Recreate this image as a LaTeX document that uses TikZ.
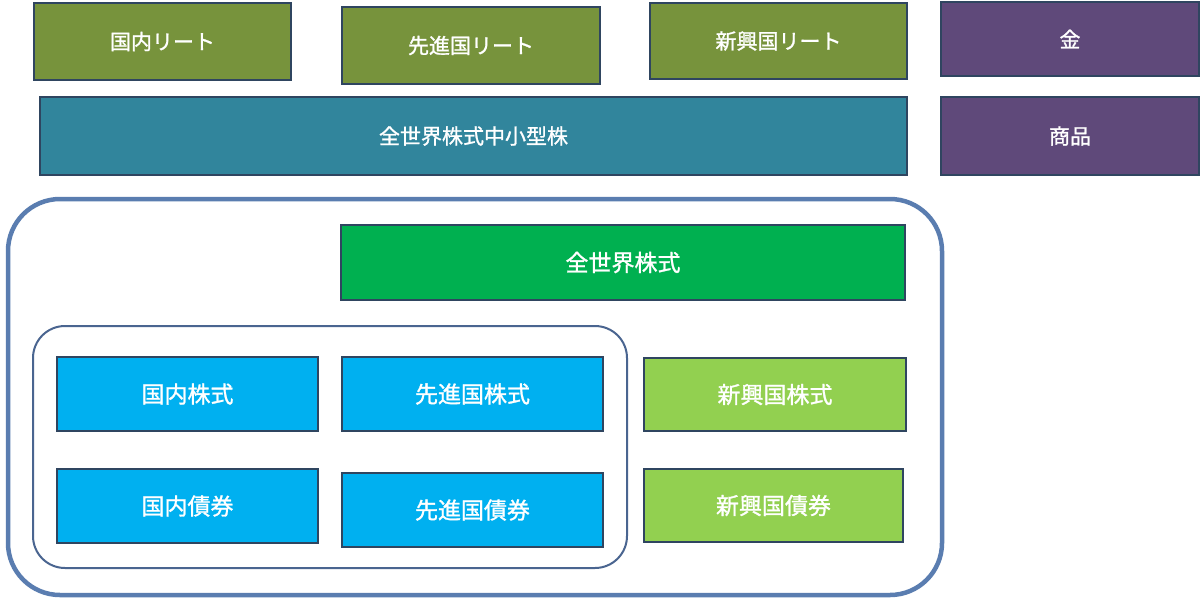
\documentclass[tikz,border=0pt]{standalone}
\usepackage{fontspec}
\newfontfamily\cjk[FakeBold=1.2]{Noto Sans CJK JP}
\definecolor{olivec}{HTML}{77933C}
\definecolor{tealc}{HTML}{31859C}
\definecolor{purplec}{HTML}{5F497A}
\definecolor{greenc}{HTML}{00B050}
\definecolor{bluec}{HTML}{00B0F0}
\definecolor{lgreenc}{HTML}{92D050}
\definecolor{edgec}{HTML}{2F4560}
\definecolor{outerc}{HTML}{5A7DB0}
\definecolor{innerc}{HTML}{4A6590}
\newcommand{\placebox}[7]{%
  \node[cell,fill=#6,minimum width={#4-#2},minimum height={#5-#3}] (#1) at ({(#2+#4)/2},{(#3+#5)/2}) {#7};}
\begin{document}
\begin{tikzpicture}[x=1pt,y=-1pt,
  cell/.style={draw=edgec,line width=2.5pt,rectangle,inner sep=0pt,text=white,font=\cjk\fontsize{21}{24}\selectfont},
  frameouter/.style={draw=outerc,line width=4.5pt,rounded corners=52pt},
  frameinner/.style={draw=innerc,line width=2pt,rounded corners=32pt}]
\fill[white] (0,0) rectangle (1200,598);
\useasboundingbox (0,0) rectangle (1200,598);
% top row
\placebox{jreit}{34}{3}{291}{80}{olivec}{国内リート}
\placebox{dreit}{342}{7}{600}{84}{olivec}{先進国リート}
\placebox{ereit}{650}{3}{907}{79}{olivec}{新興国リート}
\placebox{gold}{941}{2}{1199}{76}{purplec}{金}
\placebox{small}{40}{97}{907}{175}{tealc}{全世界株式中小型株}
\placebox{comm}{941}{97}{1199}{175}{purplec}{商品}
% outer frame
\draw[frameouter] (8,199) rectangle (942,595);
\placebox{world}{341}{225}{905}{300}{greenc}{\fontsize{23}{26}\selectfont 全世界株式}
% inner frame
\draw[frameinner] (33,326) rectangle (627,568);
\placebox{jeq}{57}{357}{318}{431}{bluec}{\fontsize{23}{26}\selectfont 国内株式}
\placebox{deq}{342}{357}{603}{431}{bluec}{\fontsize{23}{26}\selectfont 先進国株式}
\placebox{jbd}{57}{469}{318}{543}{bluec}{\fontsize{23}{26}\selectfont 国内債券}
\placebox{dbd}{342}{473}{603}{547}{bluec}{\fontsize{23}{26}\selectfont 先進国債券}
\placebox{eeq}{644}{358}{906}{431}{lgreenc}{\fontsize{23}{26}\selectfont 新興国株式}
\placebox{ebd}{644}{469}{903}{542}{lgreenc}{\fontsize{23}{26}\selectfont 新興国債券}
\end{tikzpicture}
\end{document}
